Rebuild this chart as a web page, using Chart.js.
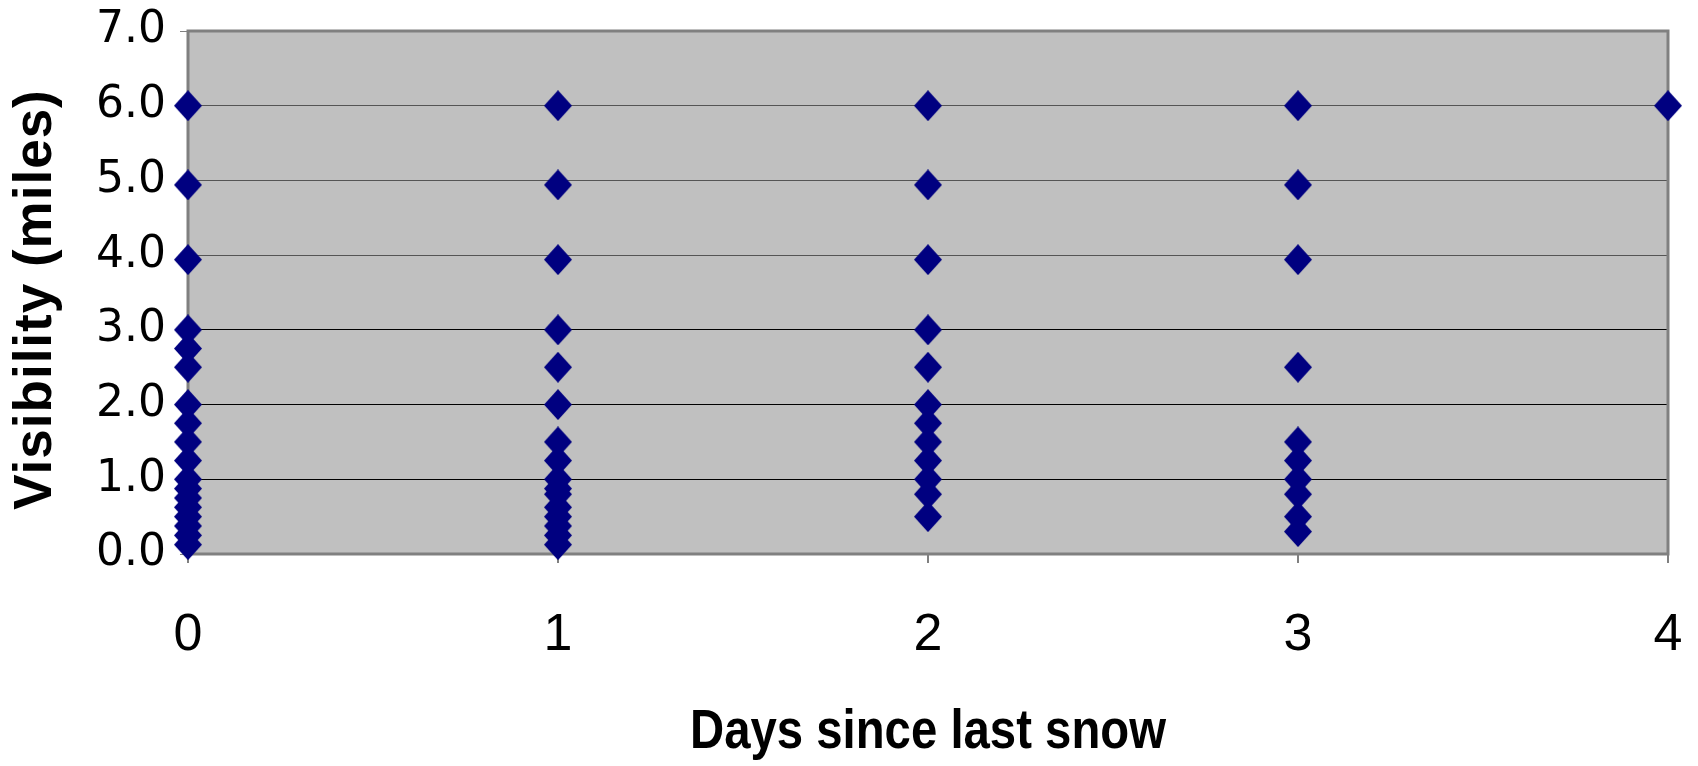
<!DOCTYPE html>
<html>
<head>
<meta charset="utf-8">
<script src="https://cdn.jsdelivr.net/npm/chart.js@4"></script>
<style>
  html, body { margin: 0; padding: 0; background: #ffffff; }
  #wrap { width: 1698px; height: 766px; position: relative; }
</style>
</head>
<body>
<div id="wrap"><canvas id="c"></canvas></div>
<script>
// ---- data ----
const days = [0, 1, 2, 3, 4];
const visDay0 = [6, 4.94, 3.94, 3, 2.75, 2.5, 2, 1.75, 1.5, 1.25, 1, 0.875, 0.75, 0.625, 0.5, 0.375, 0.25, 0.125];
const visDay1 = [6, 4.94, 3.94, 3, 2.5, 2, 1.5, 1.25, 1, 0.875, 0.8, 0.625, 0.5, 0.375, 0.25, 0.125];
const visDay2 = [6, 4.94, 3.94, 3, 2.5, 2, 1.75, 1.5, 1.25, 1, 0.8, 0.5];
const visDay3 = [6, 4.94, 3.94, 2.5, 1.5, 1.25, 1, 0.8, 0.5, 0.3];
const visDay4 = [6];
const yTicks = [0, 1, 2, 3, 4, 5, 6, 7];
const xTitle = 'Days since last snow';
const yTitle = 'Visibility (miles)';

const perDay = [visDay0, visDay1, visDay2, visDay3, visDay4];
const points = [];
perDay.forEach((vals, i) => vals.forEach(v => points.push({ x: days[i], y: v })));

// diamond marker (slightly taller than wide, as in the reference)
function makeDiamond(w, h, color) {
  const c = document.createElement('canvas');
  c.width = w; c.height = h;
  const g = c.getContext('2d');
  g.fillStyle = color;
  g.beginPath();
  g.moveTo(w / 2, 0);
  g.lineTo(w, h / 2);
  g.lineTo(w / 2, h);
  g.lineTo(0, h / 2);
  g.closePath();
  g.fill();
  return c;
}
const diamond = makeDiamond(28, 31, '#000080');

const plotFrame = {
  id: 'plotFrame',
  beforeDraw(chart) {
    const a = chart.chartArea, ctx = chart.ctx;
    ctx.save();
    ctx.fillStyle = '#C0C0C0';
    ctx.fillRect(a.left, a.top, a.right - a.left, a.bottom - a.top);
    ctx.restore();
  },
  beforeDatasetsDraw(chart) {
    const a = chart.chartArea, ctx = chart.ctx;
    ctx.save();
    ctx.strokeStyle = '#808080';
    ctx.lineWidth = 3;
    ctx.strokeRect(a.left, a.top, a.right - a.left, a.bottom - a.top);
    ctx.restore();
  }
};

// title styling: condensed x title, slightly letter-spaced y title
const titleStyle = {
  id: 'titleStyle',
  afterLayout(chart) {
    const sx = chart.scales.x, sy = chart.scales.y;
    if (sx && !sx._styled) {
      const orig = sx.drawTitle;
      sx.drawTitle = function () {
        const c = this.ctx;
        const cx = (this.left + this.right) / 2;
        c.save();
        c.translate(cx, 0);
        c.scale(0.845, 1);
        c.translate(-cx, 0);
        orig.call(this);
        c.restore();
      };
      sx._styled = true;
    }
    if (sy && !sy._styled) {
      const origY = sy.drawTitle;
      sy.drawTitle = function () {
        const c = this.ctx;
        c.save();
        c.translate(0, 7);
        if ('letterSpacing' in c) c.letterSpacing = '1px';
        origY.call(this);
        c.restore();
      };
      sy._styled = true;
    }
  }
};

new Chart(document.getElementById('c'), {
  type: 'scatter',
  data: {
    datasets: [{
      data: points,
      pointStyle: diamond,
      pointRadius: 14,
      pointHoverRadius: 14,
      backgroundColor: '#000080',
      borderColor: '#000080',
      clip: false
    }]
  },
  options: {
    responsive: true,
    maintainAspectRatio: false,
    animation: false,
    events: [],
    layout: { autoPadding: false, padding: { top: 31, right: 30, left: 0, bottom: 0 } },
    plugins: { legend: { display: false }, tooltip: { enabled: false } },
    scales: {
      x: {
        type: 'linear',
        min: 0, max: 4,
        afterFit(s) { s.height = 212; },
        border: { display: false },
        grid: { drawOnChartArea: false, drawTicks: true, tickLength: 9, tickColor: '#808080', lineWidth: 2 },
        ticks: {
          stepSize: 1,
          padding: 0,
          color: '#000',
          font: { family: 'Liberation Sans, Arial, sans-serif', size: 52, lineHeight: 2.8 },
          callback: v => String(v)
        },
        title: {
          display: true,
          text: xTitle,
          color: '#000',
          padding: { top: 0, bottom: 0 },
          font: { family: 'Liberation Sans, Arial, sans-serif', size: 56, weight: 'bold' }
        }
      },
      y: {
        type: 'linear',
        min: 0, max: 7,
        afterFit(s) { s.width = 188; },
        afterBuildTicks(s) { s.ticks = yTicks.map(v => ({ value: v })); },
        border: { display: false },
        grid: {
          drawTicks: true,
          tickLength: 8,
          tickColor: '#808080',
          lineWidth: 1,
          color: ctx => {
            const v = ctx.tick ? ctx.tick.value : null;
            if (v === 0 || v === 7) return 'rgba(0,0,0,0)';
            return v >= 4 ? '#555555' : '#000000';
          }
        },
        ticks: {
          padding: 14,
          color: '#000',
          font: { family: 'DejaVu Sans, sans-serif', size: 44, lineHeight: 0.6 },
          callback: v => Number(v).toFixed(1)
        },
        title: {
          display: true,
          text: yTitle,
          color: '#000',
          padding: { top: 5, bottom: 0 },
          font: { family: 'Liberation Sans, Arial, sans-serif', size: 53, weight: 'bold' }
        }
      }
    }
  },
  plugins: [plotFrame, titleStyle]
});
</script>
</body>
</html>
